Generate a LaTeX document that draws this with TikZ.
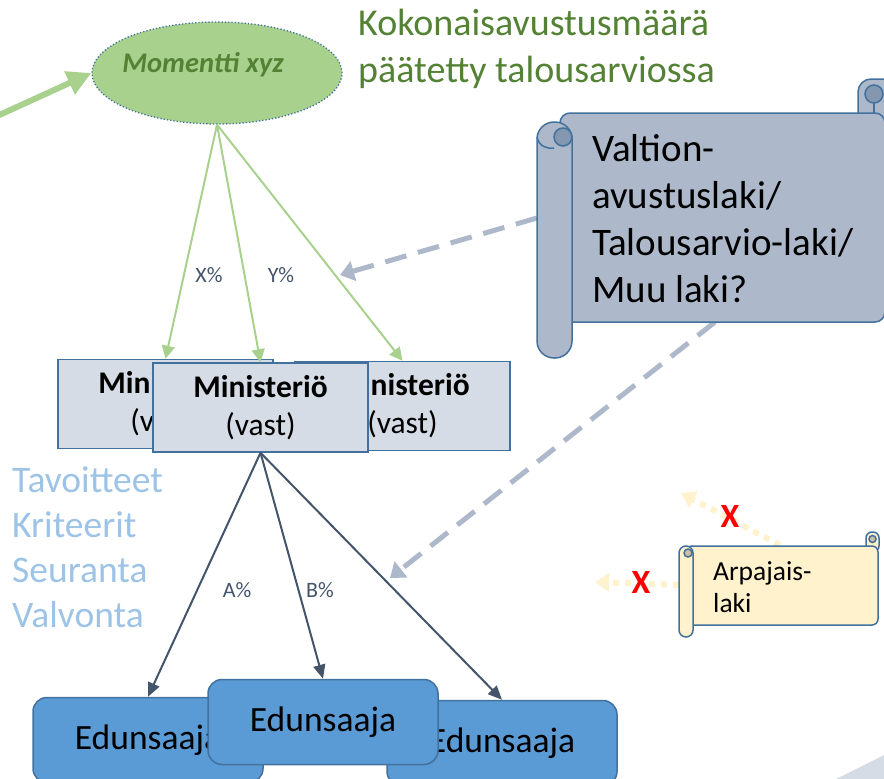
\documentclass[tikz,border=0pt]{standalone}
\usepackage{fontspec}
\setmainfont{Carlito}
\usetikzlibrary{arrows.meta,shapes.geometric}
\definecolor{lightGreen}{RGB}{169,209,142}
\definecolor{darkGreen}{RGB}{84,130,53}
\definecolor{edgeBlue}{RGB}{65,113,156}
\definecolor{scrollGrey}{RGB}{173,185,202}
\definecolor{curlGrey}{RGB}{132,151,176}
\definecolor{boxGrey}{RGB}{214,220,229}
\definecolor{slate}{RGB}{68,84,106}
\definecolor{midBlue}{RGB}{91,155,213}
\definecolor{paleBlue}{RGB}{157,195,230}
\definecolor{paleYellow}{RGB}{255,242,204}
\definecolor{curlYellow}{RGB}{204,194,163}

\begin{document}
\begin{tikzpicture}[x=1pt,y=-1pt,
  ministeri/.style={draw=edgeBlue,line width=1.5pt,fill=boxGrey,minimum width=215pt,minimum height=89pt,inner sep=0pt,align=center,font=\fontsize{31.5}{38}\selectfont},
  edun/.style={draw=edgeBlue,line width=1.5pt,fill=midBlue,rounded corners=14pt,minimum width=230pt,minimum height=85pt,inner sep=0pt,font=\fontsize{35.5}{40}\selectfont},
  greenarr/.style={lightGreen,line width=2pt,-{Triangle[length=13pt,width=13pt]}},
  slatearr/.style={slate,line width=2pt,-{Triangle[length=14pt,width=12pt]}},
  lawarr/.style={scrollGrey,line width=5pt,dash pattern=on 22pt off 12pt,-{Triangle[length=14pt,width=20pt]}},
  noarr/.style={paleYellow,line width=6pt,dash pattern=on 6pt off 6pt,-{Triangle[length=14pt,width=18pt]}},
  pct/.style={slate,font=\fontsize{22}{26}\selectfont},
  redx/.style={red,font=\bfseries\fontsize{34}{40}\selectfont},
  scrolledge/.style={draw=edgeBlue,line width=1.5pt}]

  \newcommand{\pct}[3]{\node[pct] (#1) at (#2) {#3};}

  \useasboundingbox (0,0) rectangle (884,779);
  \clip (0,0) rectangle (884,779);

  % corner of the slide background
  \fill[boxGrey] (836,779) -- (884,755) -- (884,779) -- cycle;

  % momentti
  \node[ellipse,draw=edgeBlue,dotted,line width=1.3pt,fill=lightGreen,minimum width=250pt,minimum height=102pt] (mom) at (217,73) {};
  \node[darkGreen,anchor=base,font=\bfseries\itshape\fontsize{28.5}{32}\selectfont] (momtxt) at (203,72) {Momentti xyz};
  \coordinate (budget) at (-5,117);
  \draw[lightGreen,line width=6pt,-{Triangle[length=24pt,width=24pt]}] (budget) -- (mom.west);
  \node[darkGreen,anchor=base west,align=left,inner sep=0pt,font=\fontsize{38}{47}\selectfont] (total) at (358,82) {Kokonaisavustusmäärä\\päätetty talousarviossa};

  % ministeriot
  \node[ministeri] (minL) at (165.5,404) {\textbf{Ministeriö}\\(vast)};
  \node[ministeri] (minR) at (402.5,406) {\textbf{Ministeriö}\\(vast)};
  \node[ministeri] (minM) at (260.5,407.5) {\textbf{Ministeriö}\\(vast)};
  \draw[greenarr] (mom.south) -- (minL.north);
  \draw[greenarr] (mom.south) -- (minM.north);
  \draw[greenarr] (mom.south) -- (minR.north);
  \pct{pctX}{209,275}{X\%}
  \pct{pctY}{281,275}{Y\%}

  % laki
  \coordinate (lawL) at (537,218);
  \coordinate (lawB) at (715,322);
  \coordinate (toMin) at (340,275);
  \coordinate (toEdun) at (390,578);
  \draw[lawarr] (lawL) -- (toMin);
  \draw[lawarr] (lawB) -- (toEdun);
  \draw[scrolledge,fill=scrollGrey,rounded corners=13pt] (858,125) rectangle (910,79);
  \filldraw[scrolledge,fill=curlGrey] (874,94) circle (9pt);
  \draw[scrolledge] (874,103) -- (874,113);
  \draw[scrolledge,fill=scrollGrey,rounded corners=10pt] (560,113) rectangle (885,322);
  \draw[scrolledge,fill=scrollGrey,rounded corners=17pt] (537,122) rectangle (572,358);
  \draw[scrolledge] (537,137) .. controls (539,147) and (548,149) .. (554,148);
  \filldraw[scrolledge,fill=curlGrey] (563,137) circle (9pt);
  \node[anchor=base west,align=left,inner sep=0pt,font=\fontsize{39}{46.7}\selectfont] (law) at (592,302) {Valtion-\\avustuslaki/\\Talousarvio-laki/\\Muu laki?};

  % arpajaislaki
  \coordinate (arpT) at (780,545);
  \coordinate (arpUp) at (681,493);
  \coordinate (arpW) at (679,585);
  \coordinate (arpLeft) at (595,582);
  \draw[noarr] (arpT) -- (arpUp);
  \draw[noarr] (arpW) -- (arpLeft);
  \draw[scrolledge,fill=paleYellow,rounded corners=6pt] (866,552) rectangle (879,532);
  \filldraw[scrolledge,fill=curlYellow] (872.5,539) circle (3.5pt);
  \draw[scrolledge,fill=paleYellow,rounded corners=6pt] (686,546) rectangle (878,625);
  \draw[scrolledge,fill=paleYellow,rounded corners=7pt] (679,546) rectangle (693,637);
  \filldraw[scrolledge,fill=curlYellow] (688,553) circle (4pt);
  \node[anchor=base west,align=left,inner sep=0pt,font=\fontsize{27.5}{32}\selectfont] (arp) at (713,612) {Arpajais-\\laki};
  \node[redx] (noUp) at (730,516) {X};
  \node[redx] (noLeft) at (641,582) {X};

  % ohjaus
  \node[paleBlue,anchor=base west,align=left,inner sep=0pt,font=\fontsize{37.5}{44.8}\selectfont] (goals) at (12,627) {Tavoitteet\\Kriteerit\\Seuranta\\Valvonta};

  % edunsaajat
  \node[edun] (edL) at (148,740) {Edunsaaja};
  \node[edun] (edR) at (502,743) {Edunsaaja};
  \node[edun] (edM) at (323,722) {Edunsaaja};
  \draw[slatearr] (minM.south) -- (edL.north);
  \draw[slatearr] (minM.south) -- (edM.north);
  \draw[slatearr] (minM.south) -- (edR.north);
  \pct{pctA}{237,590}{A\%}
  \pct{pctB}{320,590}{B\%}
\end{tikzpicture}
\end{document}
